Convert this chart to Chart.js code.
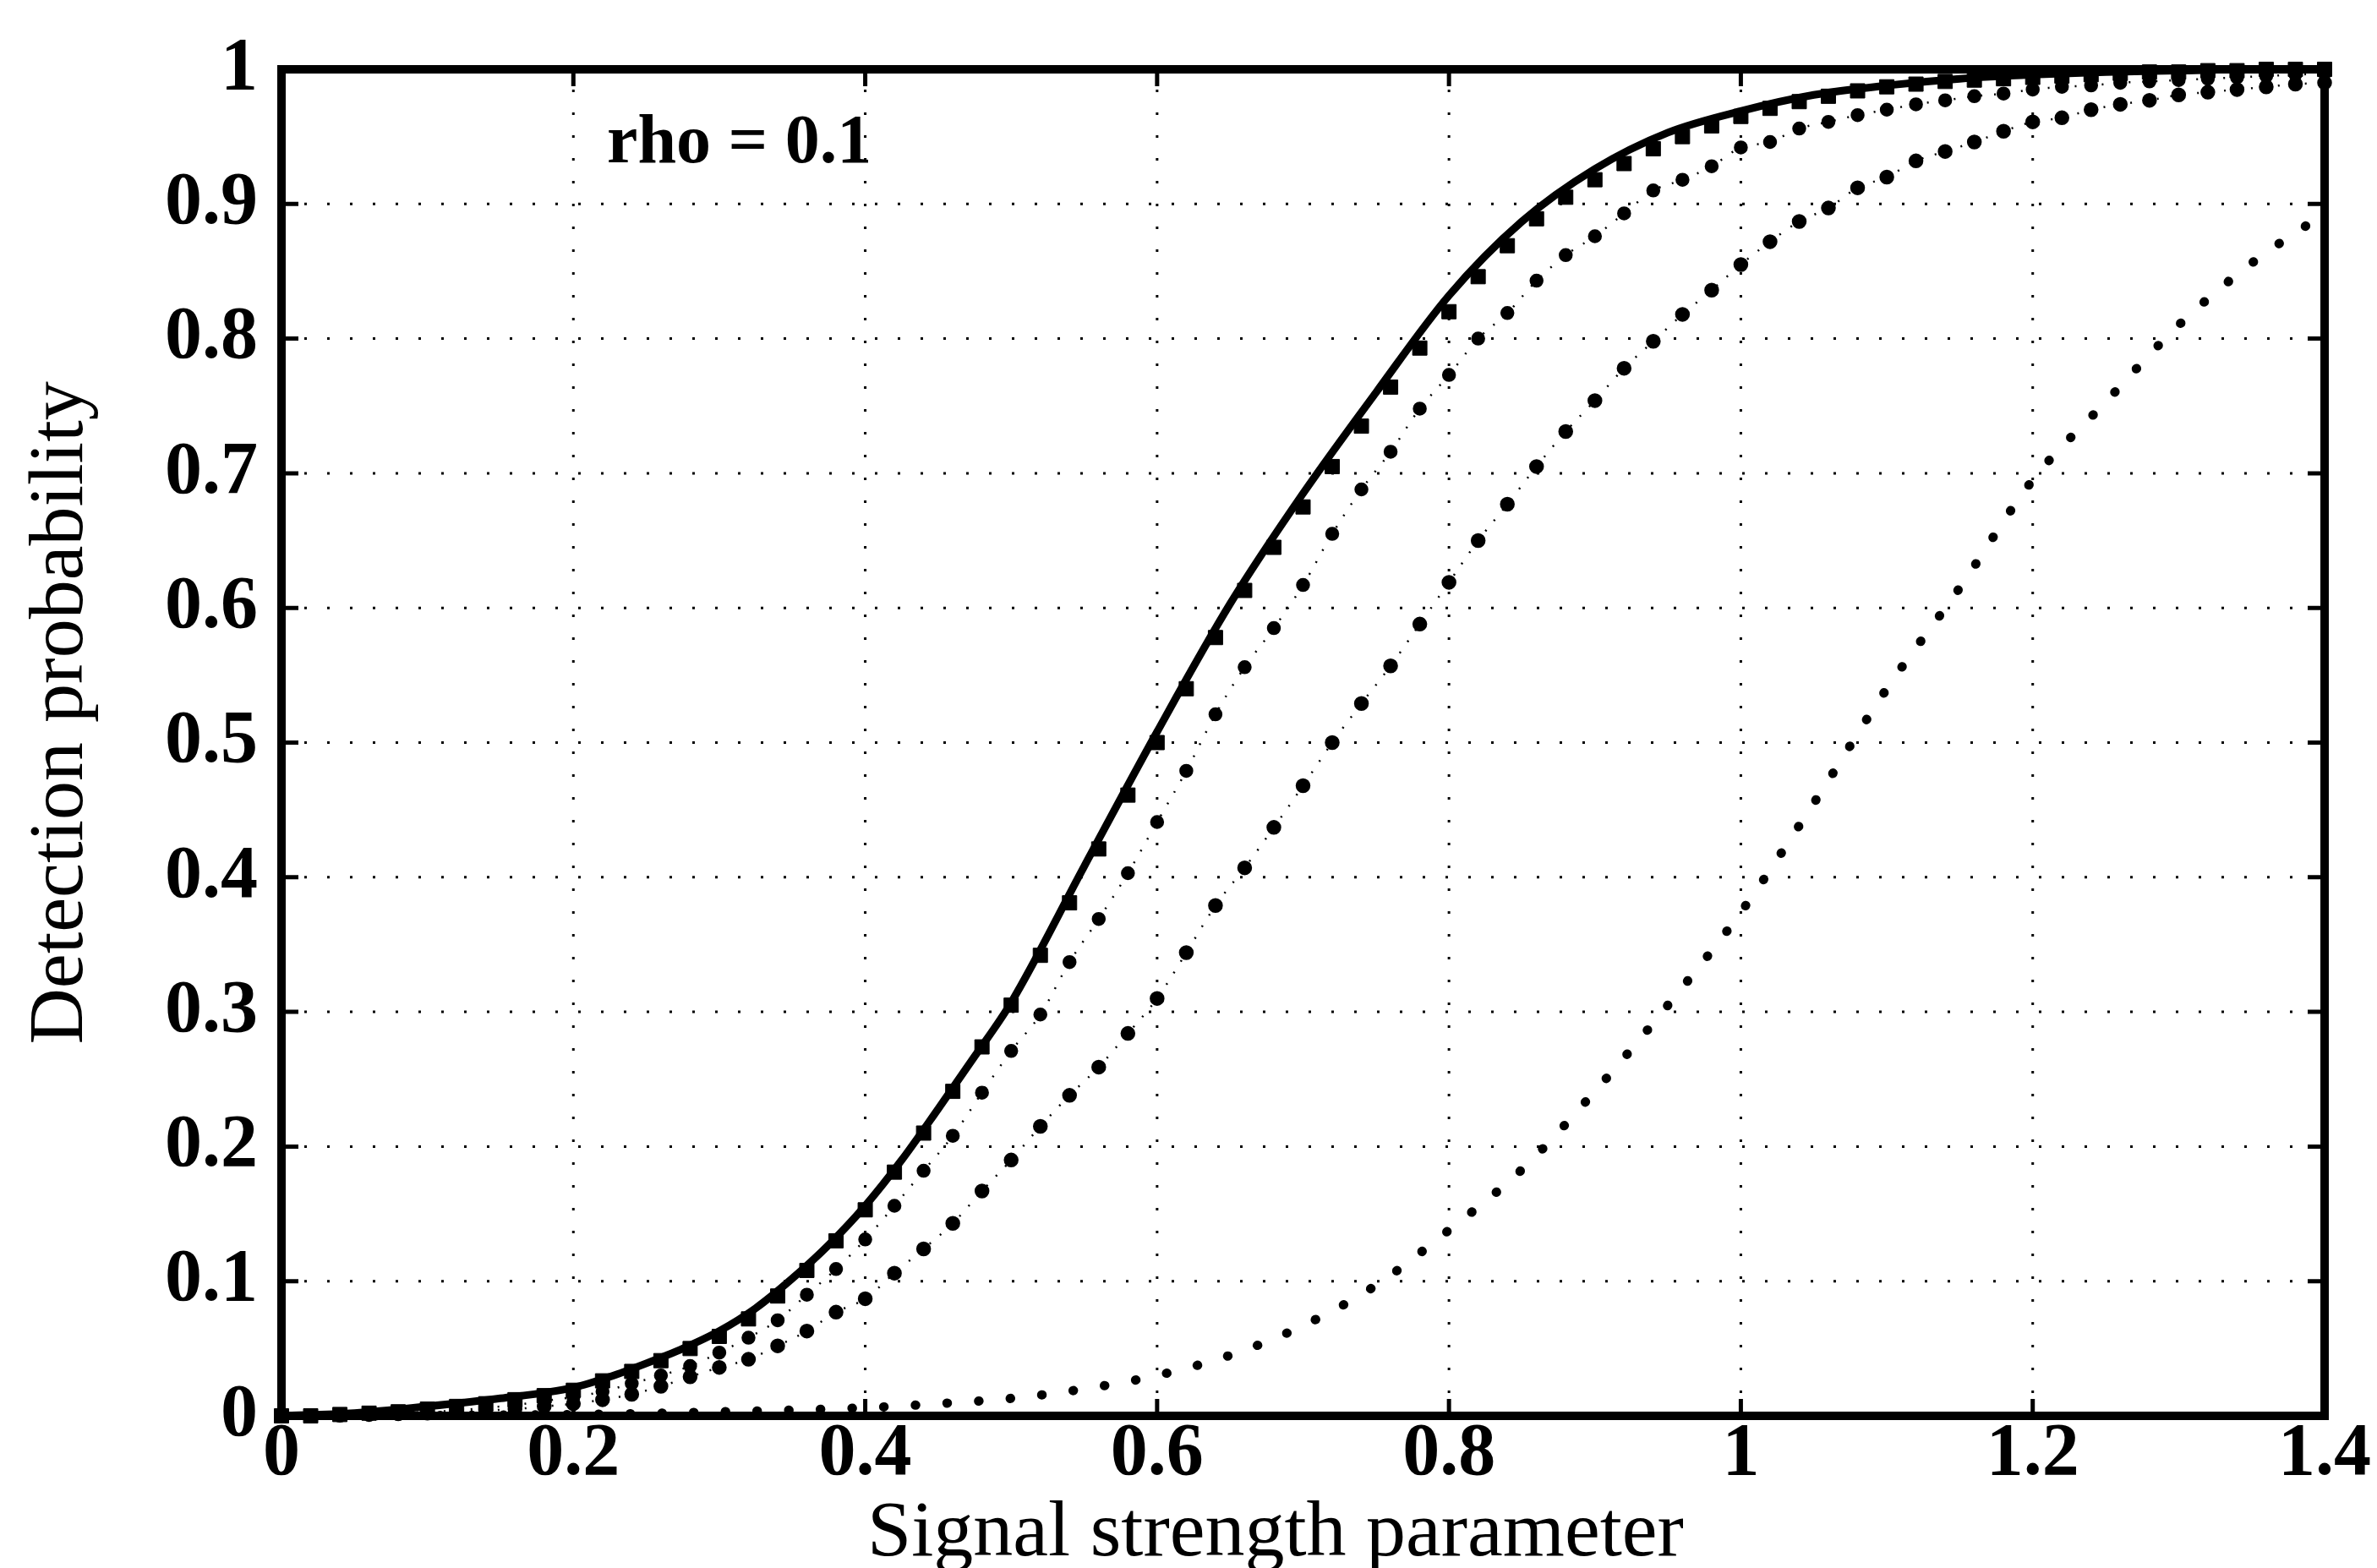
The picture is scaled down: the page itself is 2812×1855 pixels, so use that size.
<!DOCTYPE html>
<html>
<head>
<meta charset="utf-8">
<script src="https://cdn.jsdelivr.net/npm/chart.js@4.4.0/dist/chart.umd.min.js"></script>
<style>
html,body{margin:0;padding:0;background:#fff;overflow:hidden}
canvas{display:block}
</style>
</head>
<body>
<canvas id="c" width="2812" height="1855"></canvas>
<script>
// ---------- tick labels ----------
const xTickValues = [0, 0.2, 0.4, 0.6, 0.8, 1, 1.2, 1.4];
const xTickLabels = ['0', '0.2', '0.4', '0.6', '0.8', '1', '1.2', '1.4'];
const yTickValues = [0, 0.1, 0.2, 0.3, 0.4, 0.5, 0.6, 0.7, 0.8, 0.9, 1];
const yTickLabels = ['0', '0.1', '0.2', '0.3', '0.4', '0.5', '0.6', '0.7', '0.8', '0.9', '1'];
const xTitle = 'Signal strength parameter';
const yTitle = 'Detection probability';
const annotText = 'rho = 0.1';

// ---------- solid curve ----------
const xSolid = [0, 0.05, 0.1, 0.15, 0.2, 0.225, 0.25, 0.275, 0.3, 0.325, 0.35, 0.375, 0.4, 0.425, 0.45, 0.475,
                0.5, 0.55, 0.6, 0.65, 0.7, 0.75, 0.8, 0.85, 0.9, 0.95, 1.0, 1.05, 1.1, 1.15, 1.2, 1.25, 1.3, 1.35, 1.4];
const ySolid = [0, 0.002, 0.007, 0.013, 0.021, 0.029, 0.039, 0.050, 0.063, 0.080, 0.102, 0.127, 0.156, 0.190, 0.228, 0.267,
                0.307, 0.408, 0.508, 0.603, 0.685, 0.760, 0.832, 0.887, 0.926, 0.953, 0.969, 0.981, 0.988, 0.993, 0.996, 0.998, 0.999, 1.0, 1.0];

// ---------- marker curves (sampled every 0.02) ----------
const xMarks = [0, 0.02, 0.04, 0.06, 0.08, 0.10, 0.12, 0.14, 0.16, 0.18,
                0.20, 0.22, 0.24, 0.26, 0.28, 0.30, 0.32, 0.34, 0.36, 0.38,
                0.40, 0.42, 0.44, 0.46, 0.48, 0.50, 0.52, 0.54, 0.56, 0.58,
                0.60, 0.62, 0.64, 0.66, 0.68, 0.70, 0.72, 0.74, 0.76, 0.78,
                0.80, 0.82, 0.84, 0.86, 0.88, 0.90, 0.92, 0.94, 0.96, 0.98,
                1.00, 1.02, 1.04, 1.06, 1.08, 1.10, 1.12, 1.14, 1.16, 1.18,
                1.20, 1.22, 1.24, 1.26, 1.28, 1.30, 1.32, 1.34, 1.36, 1.38,
                1.40];
const ySquares = [0, 0, 0.001, 0.002, 0.003, 0.005, 0.007, 0.009, 0.012, 0.015,
                  0.019, 0.026, 0.033, 0.041, 0.050, 0.059, 0.072, 0.089, 0.108, 0.130,
                  0.153, 0.181, 0.210, 0.241, 0.274, 0.305, 0.342, 0.381, 0.421, 0.461,
                  0.500, 0.540, 0.578, 0.613, 0.645, 0.675, 0.705, 0.735, 0.764, 0.793,
                  0.820, 0.846, 0.869, 0.889, 0.905, 0.918, 0.930, 0.941, 0.950, 0.958,
                  0.965, 0.971, 0.976, 0.980, 0.984, 0.987, 0.989, 0.991, 0.992, 0.993,
                  0.994, 0.995, 0.996, 0.997, 0.998, 0.998, 0.999, 0.999, 1.0, 1.0,
                  1.0];
const yDotsNear = [0, 0, 0.001, 0.001, 0.002, 0.003, 0.004, 0.006, 0.008, 0.011,
                   0.014, 0.018, 0.024, 0.030, 0.037, 0.047, 0.058, 0.071, 0.090, 0.109,
                   0.131, 0.156, 0.182, 0.208, 0.240, 0.271, 0.298, 0.337, 0.369, 0.403,
                   0.441, 0.479, 0.521, 0.556, 0.585, 0.617, 0.655, 0.688, 0.716, 0.748,
                   0.773, 0.800, 0.819, 0.843, 0.862, 0.876, 0.893, 0.910, 0.918, 0.928,
                   0.942, 0.946, 0.956, 0.961, 0.966, 0.970, 0.974, 0.977, 0.980, 0.982,
                   0.985, 0.987, 0.988, 0.990, 0.991, 0.992, 0.993, 0.994, 0.995, 0.996,
                   0.997];
const yDotsMid = [0, 0, 0.0005, 0.001, 0.0015, 0.002, 0.003, 0.004, 0.005, 0.007,
                  0.009, 0.012, 0.016, 0.022, 0.029, 0.036, 0.042, 0.052, 0.063, 0.077,
                  0.087, 0.106, 0.124, 0.143, 0.167, 0.190, 0.215, 0.238, 0.259, 0.284,
                  0.310, 0.344, 0.379, 0.407, 0.437, 0.468, 0.500, 0.529, 0.557, 0.588,
                  0.619, 0.650, 0.677, 0.705, 0.731, 0.754, 0.778, 0.798, 0.818, 0.836,
                  0.855, 0.872, 0.887, 0.897, 0.912, 0.920, 0.932, 0.939, 0.946, 0.954,
                  0.961, 0.964, 0.970, 0.974, 0.977, 0.981, 0.983, 0.985, 0.987, 0.989,
                  0.990];

// ---------- far dotted curve ----------
const xFar = [0, 0.1, 0.2, 0.3, 0.4, 0.45, 0.5, 0.55, 0.6, 0.65, 0.7, 0.75, 0.8, 0.85, 0.9,
              0.95, 1.0, 1.05, 1.1, 1.15, 1.2, 1.25, 1.3, 1.35, 1.4];
const yFar = [0, 0.0003, 0.001, 0.003, 0.006, 0.009, 0.013, 0.02, 0.03, 0.045, 0.067, 0.097, 0.138, 0.183, 0.241,
              0.305, 0.374, 0.455, 0.54, 0.615, 0.695, 0.753, 0.81, 0.856, 0.893];

// annotation position (data units)
const annotX = 0.223;
const annotY = 0.931;

const pts = (xs, ys) => xs.map((x, i) => ({x: x, y: ys[i]}));

Chart.defaults.font.family = '"Liberation Serif", "Times New Roman", serif';
Chart.defaults.color = '#000';

const decor = {
  id: 'decor',
  beforeDatasetsDraw(chart) {
    const {ctx, chartArea: a, scales: {x, y}} = chart;
    ctx.save();
    ctx.strokeStyle = '#000';
    ctx.lineWidth = 3;
    ctx.setLineDash([3, 24]);
    xTickValues.slice(1, -1).forEach(v => {
      const px = x.getPixelForValue(v);
      ctx.beginPath(); ctx.moveTo(px, a.bottom); ctx.lineTo(px, a.top); ctx.stroke();
    });
    yTickValues.slice(1, -1).forEach(v => {
      const py = y.getPixelForValue(v);
      ctx.beginPath(); ctx.moveTo(a.left, py); ctx.lineTo(a.right, py); ctx.stroke();
    });
    ctx.restore();
  },
  afterDatasetsDraw(chart) {
    const {ctx, chartArea: a, scales: {x, y}} = chart;
    ctx.save();
    ctx.setLineDash([]);
    ctx.strokeStyle = '#000';
    // inward ticks
    ctx.lineWidth = 5;
    const tl = 20;
    xTickValues.slice(1, -1).forEach(v => {
      const px = x.getPixelForValue(v);
      ctx.beginPath();
      ctx.moveTo(px, a.bottom); ctx.lineTo(px, a.bottom - tl);
      ctx.moveTo(px, a.top); ctx.lineTo(px, a.top + tl);
      ctx.stroke();
    });
    yTickValues.slice(1, -1).forEach(v => {
      const py = y.getPixelForValue(v);
      ctx.beginPath();
      ctx.moveTo(a.left, py); ctx.lineTo(a.left + tl, py);
      ctx.moveTo(a.right, py); ctx.lineTo(a.right - tl, py);
      ctx.stroke();
    });
    // frame
    ctx.lineWidth = 10;
    ctx.strokeRect(a.left, a.top, a.right - a.left, a.bottom - a.top);
    // annotation
    ctx.fillStyle = '#000';
    ctx.font = 'bold 82px "Liberation Serif"';
    ctx.textAlign = 'left';
    ctx.textBaseline = 'alphabetic';
    ctx.fillText(annotText, x.getPixelForValue(annotX), y.getPixelForValue(annotY));
    // axis titles
    ctx.font = '94px "Liberation Serif"';
    ctx.textAlign = 'center';
    ctx.fillText(xTitle, a.left + (a.right - a.left) * 0.4865, a.bottom + 165);
    ctx.translate(97, a.top + (a.bottom - a.top) * 0.478);
    ctx.rotate(-Math.PI / 2);
    ctx.font = '92px "Liberation Serif"';
    ctx.fillText(yTitle, 0, 0);
    ctx.restore();
  }
};

new Chart(document.getElementById('c'), {
  type: 'scatter',
  data: {
    datasets: [
      {
        label: 'solid',
        data: pts(xSolid, ySolid),
        showLine: true,
        borderColor: '#000',
        borderWidth: 9,
        pointRadius: 0,
        cubicInterpolationMode: 'monotone',
        clip: 20
      },
      {
        label: 'squares',
        data: pts(xMarks, ySquares),
        showLine: false,
        pointStyle: 'rect',
        pointRadius: 12,
        backgroundColor: '#000',
        borderColor: '#000',
        borderWidth: 1,
        clip: false
      },
      {
        label: 'near dots',
        data: pts(xMarks, yDotsNear),
        showLine: true,
        borderColor: '#000',
        borderWidth: 2.5,
        borderDash: [2, 14],
        pointStyle: 'circle',
        pointRadius: 7,
        backgroundColor: '#000',
        cubicInterpolationMode: 'monotone',
        clip: false
      },
      {
        label: 'mid dots',
        data: pts(xMarks, yDotsMid),
        showLine: true,
        borderColor: '#000',
        borderWidth: 2.5,
        borderDash: [2, 14],
        pointStyle: 'circle',
        pointRadius: 7.5,
        backgroundColor: '#000',
        cubicInterpolationMode: 'monotone',
        clip: false
      },
      {
        label: 'far dotted',
        data: pts(xFar, yFar),
        showLine: true,
        borderColor: '#000',
        borderWidth: 11,
        borderDash: [0.5, 37],
        borderCapStyle: 'round',
        pointRadius: 0,
        cubicInterpolationMode: 'monotone',
        clip: 20
      }
    ]
  },
  options: {
    responsive: false,
    animation: false,
    devicePixelRatio: 1,
    events: [],
    layout: {padding: {left: 0, right: 62, top: 82, bottom: 0}},
    plugins: {legend: {display: false}, tooltip: {enabled: false}},
    scales: {
      x: {
        type: 'linear',
        min: 0,
        max: 1.4,
        afterFit(s) { s.height = 180; },
        afterBuildTicks(s) { s.ticks = xTickValues.map(v => ({value: v})); },
        ticks: {
          callback: (v, i) => xTickLabels[i],
          font: {size: 88, weight: 'bold', lineHeight: 1},
          color: '#000',
          padding: 2,
          maxRotation: 0,
          autoSkip: false
        },
        grid: {display: false, drawTicks: false},
        border: {display: false}
      },
      y: {
        type: 'linear',
        min: 0,
        max: 1,
        afterFit(s) { s.width = 333; },
        afterBuildTicks(s) { s.ticks = yTickValues.map(v => ({value: v})); },
        ticks: {
          callback: (v, i) => yTickLabels[i],
          font: {size: 88, weight: 'bold', lineHeight: 1},
          color: '#000',
          padding: 28,
          autoSkip: false
        },
        grid: {display: false, drawTicks: false},
        border: {display: false}
      }
    }
  },
  plugins: [decor]
});
</script>
</body>
</html>
